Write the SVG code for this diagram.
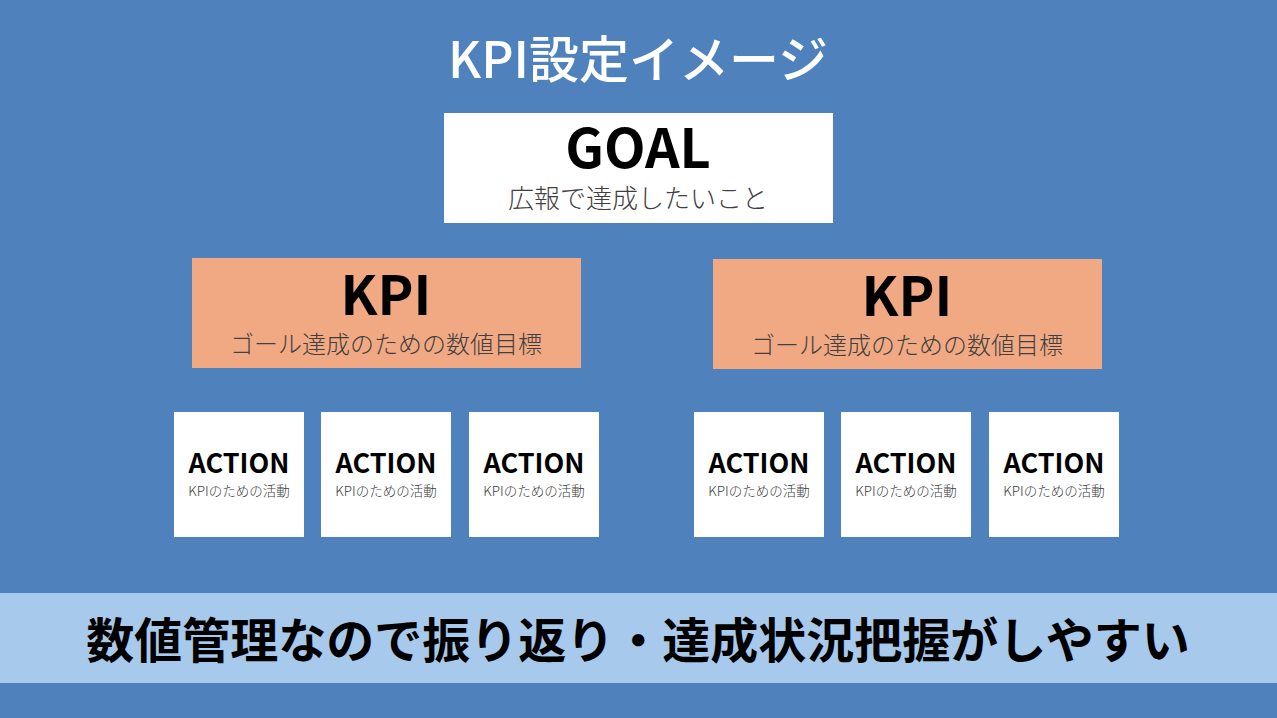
<svg xmlns="http://www.w3.org/2000/svg" width="1277" height="718" viewBox="0 0 1277 718">
<style>
text{font-family:"Noto Sans CJK JP","Noto Sans",sans-serif;text-anchor:middle}
.w{fill:#ffffff}
.k{fill:#f1a984}
.big{font-size:54px;font-weight:bold;fill:#000}
.sub{font-size:24px;fill:#404040;font-weight:300}
.act{font-size:27px;font-weight:bold;fill:#000}
.as{font-size:13.5px;fill:#404040;font-weight:300}
</style>
<rect width="1277" height="718" fill="#4f81bd"/>
<text x="638" y="78" font-size="50" font-weight="500" fill="#fff">KPI設定イメージ</text>
<g id="goal"><rect class="w" x="444" y="113" width="389" height="110"/><text class="big" x="638" y="168">GOAL</text><text class="sub" x="638" y="208" style="font-size:26px">広報で達成したいこと</text></g>
<g id="kpi1"><rect class="k" x="192" y="258" width="389" height="110"/><text class="big" x="386" y="315">KPI</text><text class="sub" x="386" y="353">ゴール達成のための数値目標</text></g>
<g id="kpi2"><rect class="k" x="713" y="259" width="389" height="110"/><text class="big" x="907" y="316">KPI</text><text class="sub" x="907" y="354">ゴール達成のための数値目標</text></g>
<g id="a1"><rect class="w" x="174" y="412" width="130" height="125"/><text class="act" x="239" y="473">ACTION</text><text class="as" x="239" y="496">KPIのための活動</text></g>
<g id="a2"><rect class="w" x="321" y="412" width="130" height="125"/><text class="act" x="386" y="473">ACTION</text><text class="as" x="386" y="496">KPIのための活動</text></g>
<g id="a3"><rect class="w" x="469" y="412" width="130" height="125"/><text class="act" x="534" y="473">ACTION</text><text class="as" x="534" y="496">KPIのための活動</text></g>
<g id="a4"><rect class="w" x="694" y="412" width="130" height="125"/><text class="act" x="759" y="473">ACTION</text><text class="as" x="759" y="496">KPIのための活動</text></g>
<g id="a5"><rect class="w" x="841" y="412" width="130" height="125"/><text class="act" x="906" y="473">ACTION</text><text class="as" x="906" y="496">KPIのための活動</text></g>
<g id="a6"><rect class="w" x="989" y="412" width="130" height="125"/><text class="act" x="1054" y="473">ACTION</text><text class="as" x="1054" y="496">KPIのための活動</text></g>
<g id="connectors"></g>
<g id="band"><rect x="0" y="593" width="1277" height="90" fill="#a7c9eb"/><text x="638" y="658" font-size="48" font-weight="bold" fill="#000">数値管理なので振り返り・達成状況把握がしやすい</text></g>
</svg>
